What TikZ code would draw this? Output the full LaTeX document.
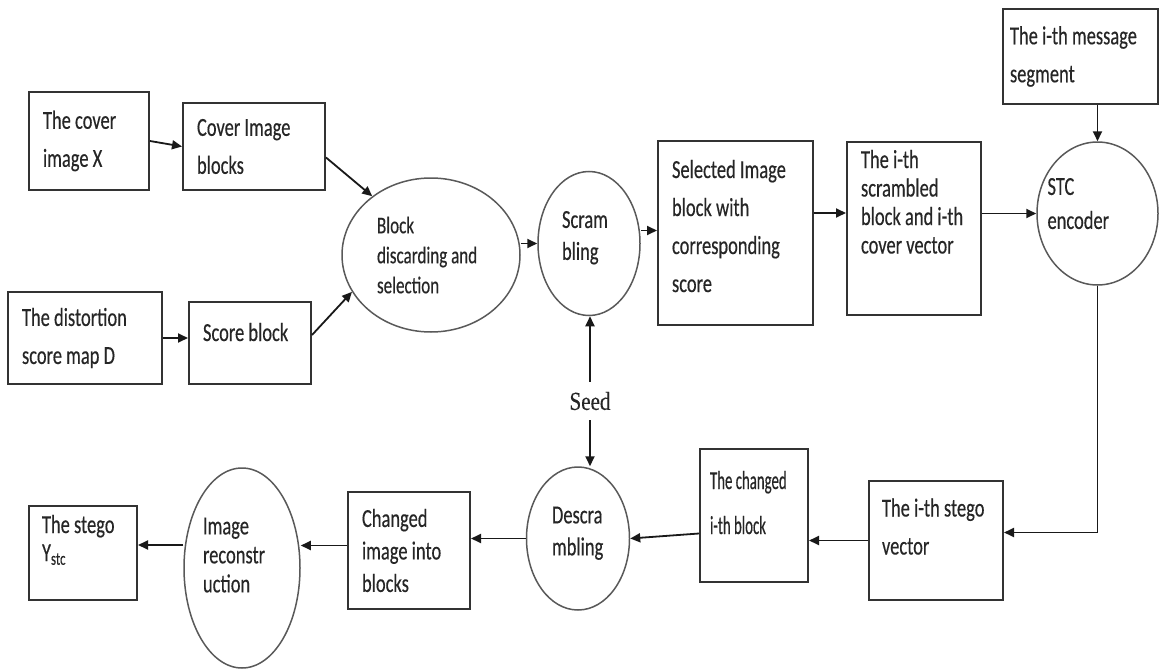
\documentclass[tikz,border=0pt]{standalone}
\usepackage{fontspec}
\setmainfont{Carlito}[FakeStretch=0.71, FakeBold=0.35]
\newfontfamily\seedfont{Liberation Serif}[FakeStretch=0.81, FakeBold=0.3]
\newfontfamily\narrowfont{Carlito}[FakeStretch=0.57, FakeBold=0.35]
\usetikzlibrary{arrows.meta, shapes.geometric}

\begin{document}
\begin{tikzpicture}[x=1pt, y=-1pt,
    box/.style={draw=black!80, line width=2pt, align=flush left, inner xsep=14pt, inner ysep=0pt,
        text=black!85, font=\fontsize{26}{38}\selectfont},
    oval/.style={draw=black!65, ellipse, line width=1.5pt, align=flush left, inner sep=0pt,
        text=black!85, font=\fontsize{26}{32}\selectfont},
    arr/.style={-{Triangle[length=10pt, width=9pt]}, line width=1.8pt, black!90},
]
\useasboundingbox (0,0) rectangle (1159,669);

% ---- embedding ----
\node[box, text width=92pt, minimum height=98pt] (cover) at (89,141) {The cover\\image X};
\node[box, text width=114pt, minimum height=87pt] (coverblk) at (254,146.5) {Cover Image\\blocks};
\node[box, text width=126pt, minimum height=92pt] (distort) at (85,338) {The distortion\\score map D};
\node[box, text width=94pt, minimum height=82pt, text depth=22pt] (score) at (250,343) {Score block};
\node[oval, text width=108pt, minimum width=178pt, minimum height=154pt, font=\fontsize{24}{30}\selectfont] (blocksel) at (431,255)
    {Block\\discarding and\\selection};
\node[oval, text width=54pt, text depth=48pt, minimum width=102pt, minimum height=144pt] (scram) at (589,243.5) {Scram\\bling};
\node[box, text width=127pt, minimum height=184pt, text depth=128pt] (selected) at (735.5,233)
    {Selected Image\\block with\\corresponding\\score};
\node[box, text width=106pt, minimum height=173pt, text depth=139pt, font=\fontsize{26}{28.5}\selectfont] (scrambled) at (914,228.5)
    {The i-th\\scrambled\\block and i-th\\cover vector};
\node[box, inner xsep=7pt, text width=141pt, minimum height=95pt] (message) at (1080.5,56.5) {The i-th message\\segment};
\node[oval, inner xsep=-8pt, text width=100pt, text depth=54pt, minimum width=121pt, minimum height=143pt, font=\fontsize{26}{34}\selectfont]
    (stc) at (1097.5,213.5) {STC\\encoder};

\draw[arr] (cover.east) -- (coverblk.west);
\draw[arr] ([yshift=-11pt]coverblk.east) -- (blocksel.135);
\draw[arr] (distort.east) -- (distort.east -| score.west);
\draw[arr] ([yshift=8pt]score.east) -- (blocksel.205);
\draw[arr] (scram.west -| blocksel.east) -- (scram.west);
\draw[arr] ([yshift=13pt]scram.east) -- ([yshift=13pt]scram.east -| selected.west);
\draw[arr] ([yshift=20pt]selected.east) -- ([yshift=20pt]selected.east -| scrambled.west);
\draw[arr] (stc.west -| scrambled.east) -- (stc.west);
\draw[arr] (message.south -| stc.north) -- (stc.north);

% ---- extraction ----
\node[box, inner xsep=13pt, text width=108pt, minimum height=119pt, text depth=66pt] (stegovec) at (936,540.5) {The i-th stego\\vector};
\node[box, inner xsep=10pt, text width=88pt, minimum height=133pt, text depth=71pt, font=\narrowfont\fontsize{26}{45}\selectfont]
    (changedblk) at (754,515.5) {The changed\\i-th block};
\node[oval, text width=52pt, text depth=47pt, minimum width=103pt, minimum height=143pt] (descram) at (578,538.5) {Descra\\mbling};
\node[box, text width=94pt, minimum height=117pt, font=\fontsize{26}{32.5}\selectfont] (changedimg) at (409,550.5)
    {Changed\\image into\\blocks};
\node[oval, text width=78pt, text depth=84pt, minimum width=116pt, minimum height=200pt, font=\fontsize{26}{29}\selectfont]
    (recon) at (242,568) {Image\\reconstr\\uction};
\node[box, inner xsep=13pt, text width=82pt, minimum height=94pt, text depth=58pt, font=\fontsize{26}{28}\selectfont] (stego) at (83,553)
    {The stego\\Y\textsubscript{stc}};
\node[inner sep=10pt, text=black!85, font=\seedfont\fontsize{26}{30}\selectfont] (seed) at (590,401) {Seed};

\draw[arr] (stc.south) |- ([yshift=8pt]stegovec.east);
\draw[arr] (stegovec.west) -- (stegovec.west -| changedblk.east);
\draw[arr] ([yshift=-18pt]changedblk.west) -- (descram.east);
\draw[arr] (descram.west) -- (descram.west -| changedimg.east);
\draw[arr] ([yshift=5pt]changedimg.west) -- ([yshift=5pt]changedimg.west -| recon.east);
\draw[arr] ([yshift=8pt]stego.east -| recon.west) -- ([yshift=8pt]stego.east);
\draw[arr] (seed.north) -- (seed.north |- scram.south);
\draw[arr] (seed.south) -- (seed.south |- descram.north);

\end{tikzpicture}
\end{document}
